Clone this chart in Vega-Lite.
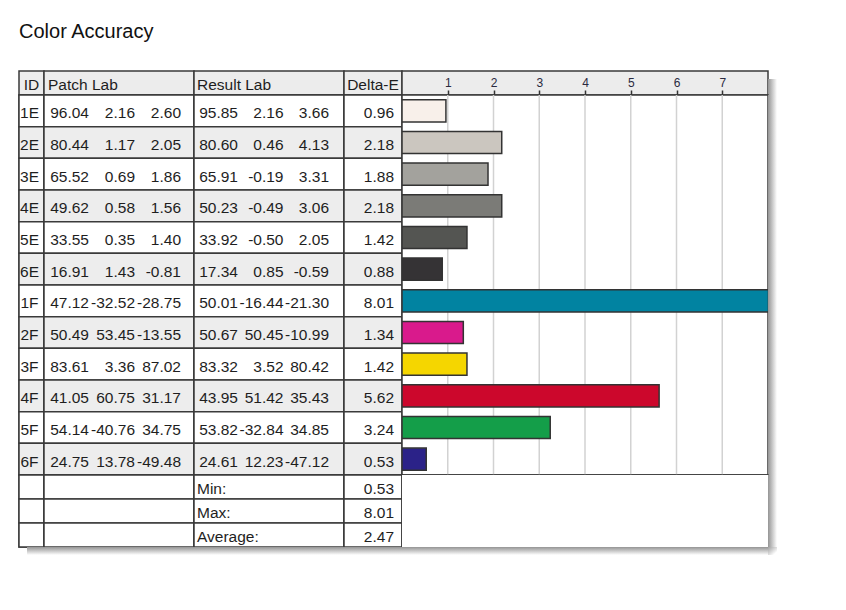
{
  "$schema": "https://vega.github.io/schema/vega-lite/v6.json",
  "padding": {"left": 17, "top": 22, "right": 0, "bottom": 0},
  "background": "white",
  "title": {"text": "Color Accuracy", "anchor": "start", "frame": "group", "fontSize": 20, "font": "Liberation Sans", "fontWeight": "normal", "color": "#111111", "offset": 28},
  "datasets": {
    "rows": [
      {"id": "1E", "pL": 96.04, "pa": 2.16, "pb": 2.60, "rL": 95.85, "ra": 2.16, "rb": 3.66, "de": 0.96},
      {"id": "2E", "pL": 80.44, "pa": 1.17, "pb": 2.05, "rL": 80.60, "ra": 0.46, "rb": 4.13, "de": 2.18},
      {"id": "3E", "pL": 65.52, "pa": 0.69, "pb": 1.86, "rL": 65.91, "ra": -0.19, "rb": 3.31, "de": 1.88},
      {"id": "4E", "pL": 49.62, "pa": 0.58, "pb": 1.56, "rL": 50.23, "ra": -0.49, "rb": 3.06, "de": 2.18},
      {"id": "5E", "pL": 33.55, "pa": 0.35, "pb": 1.40, "rL": 33.92, "ra": -0.50, "rb": 2.05, "de": 1.42},
      {"id": "6E", "pL": 16.91, "pa": 1.43, "pb": -0.81, "rL": 17.34, "ra": 0.85, "rb": -0.59, "de": 0.88},
      {"id": "1F", "pL": 47.12, "pa": -32.52, "pb": -28.75, "rL": 50.01, "ra": -16.44, "rb": -21.30, "de": 8.01},
      {"id": "2F", "pL": 50.49, "pa": 53.45, "pb": -13.55, "rL": 50.67, "ra": 50.45, "rb": -10.99, "de": 1.34},
      {"id": "3F", "pL": 83.61, "pa": 3.36, "pb": 87.02, "rL": 83.32, "ra": 3.52, "rb": 80.42, "de": 1.42},
      {"id": "4F", "pL": 41.05, "pa": 60.75, "pb": 31.17, "rL": 43.95, "ra": 51.42, "rb": 35.43, "de": 5.62},
      {"id": "5F", "pL": 54.14, "pa": -40.76, "pb": 34.75, "rL": 53.82, "ra": -32.84, "rb": 34.85, "de": 3.24},
      {"id": "6F", "pL": 24.75, "pa": 13.78, "pb": -49.48, "rL": 24.61, "ra": 12.23, "rb": -47.12, "de": 0.53}
    ],
    "summary": [
      {"s": "Min:", "v": 0.53},
      {"s": "Max:", "v": 8.01},
      {"s": "Average:", "v": 2.47}
    ],
    "gridticks": [{"g": 1}, {"g": 2}, {"g": 3}, {"g": 4}, {"g": 5}, {"g": 6}, {"g": 7}],
    "blank": [{"b": "x"}]
  },
  "columns": 6,
  "bounds": "flush",
  "spacing": 0,
  "resolve": {"scale": {"x": "independent", "y": "independent", "fill": "independent", "color": "independent"}},
  "concat": [
    {"width": 25, "height": 24, "view": {"fill": "#ececec", "stroke": "#3a3a3a", "strokeWidth": 1.5}, "data": {"values": [{"t": "ID"}]}, "mark": {"type": "text", "align": "center", "baseline": "middle", "dy": 2}, "encoding": {"text": {"field": "t"}}},
    {"width": 150, "height": 24, "view": {"fill": "#ececec", "stroke": "#3a3a3a", "strokeWidth": 1.5}, "data": {"values": [{"t": "Patch Lab"}]}, "mark": {"type": "text", "align": "left", "baseline": "middle", "dx": -71, "dy": 2}, "encoding": {"text": {"field": "t"}}},
    {"width": 150, "height": 24, "view": {"fill": "#ececec", "stroke": "#3a3a3a", "strokeWidth": 1.5}, "data": {"values": [{"t": "Result Lab"}]}, "mark": {"type": "text", "align": "left", "baseline": "middle", "dx": -72, "dy": 2}, "encoding": {"text": {"field": "t"}}},
    {"width": 58, "height": 24, "view": {"fill": "#ececec", "stroke": "#3a3a3a", "strokeWidth": 1.5}, "data": {"values": [{"t": "Delta-E"}]}, "mark": {"type": "text", "align": "center", "baseline": "middle", "dy": 2}, "encoding": {"text": {"field": "t"}}},
    {
      "width": 366, "height": 24, "view": {"fill": "#ececec", "stroke": "#3a3a3a", "strokeWidth": 1.5}, "data": {"name": "rows"},
      "mark": {"type": "point", "opacity": 0, "clip": true},
      "encoding": {
        "x": {"field": "de", "type": "quantitative", "scale": {"domain": [0, 8], "nice": false}, "axis": {"orient": "top", "offset": -24, "values": [1, 2, 3, 4, 5, 6, 7], "format": "d", "title": null, "domain": false, "grid": false, "ticks": true, "tickSize": 5, "tickColor": "#333333", "tickWidth": 1.5, "labelFontSize": 12, "labelFont": "Liberation Sans", "labelColor": "#2a2a40", "labelPadding": 1}}
      }
    },
    {
      "width": 9, "height": 24, "view": {"stroke": null}, "data": {"name": "blank"},
      "mark": {"type": "rect", "fill": {"gradient": "linear", "x1": 0, "y1": 0, "x2": 1, "y2": 0, "stops": [{"offset": 0, "color": "#949494"}, {"offset": 1, "color": "#ffffff"}]}},
      "encoding": {"y": {"field": "b", "type": "nominal", "axis": null, "scale": {"paddingInner": 0, "paddingOuter": 0.25, "align": 1}}}
    },

    {
      "width": 25, "height": 380, "data": {"name": "rows"},
      "encoding": {"y": {"field": "id", "type": "nominal", "sort": null, "axis": null, "scale": {"paddingInner": 0, "paddingOuter": 0}}},
      "layer": [
        {"mark": {"type": "rect", "stroke": "#3a3a3a", "strokeWidth": 1.5}, "encoding": {"fill": {"field": "id", "type": "nominal", "legend": null, "scale": {"domain": ["1E","2E","3E","4E","5E","6E","1F","2F","3F","4F","5F","6F"], "range": ["#ffffff","#ededed","#ffffff","#ededed","#ffffff","#ededed","#ffffff","#ededed","#ffffff","#ededed","#ffffff","#ededed"]}}}},
        {"mark": {"type": "text", "align": "center", "baseline": "middle", "dx": -2, "dy": 2.5}, "encoding": {"text": {"field": "id"}}}
      ]
    },
    {
      "width": 150, "height": 380, "data": {"name": "rows"},
      "encoding": {"y": {"field": "id", "type": "nominal", "sort": null, "axis": null, "scale": {"paddingInner": 0, "paddingOuter": 0}}},
      "layer": [
        {"mark": {"type": "rect", "stroke": "#3a3a3a", "strokeWidth": 1.5}, "encoding": {"fill": {"field": "id", "type": "nominal", "legend": null, "scale": {"domain": ["1E","2E","3E","4E","5E","6E","1F","2F","3F","4F","5F","6F"], "range": ["#ffffff","#ededed","#ffffff","#ededed","#ffffff","#ededed","#ffffff","#ededed","#ffffff","#ededed","#ffffff","#ededed"]}}}},
        {"transform": [{"fold": ["pL", "pa", "pb"], "as": ["k", "v"]}],
         "mark": {"type": "text", "align": "right", "baseline": "middle", "dy": 2.5},
         "encoding": {"x": {"field": "k", "type": "nominal", "axis": null, "scale": {"type": "point", "domain": ["pL", "pa", "pb"], "range": [45, 137], "padding": 0}}, "text": {"field": "v", "type": "quantitative", "format": ".2f"}}}
      ]
    },
    {
      "width": 150, "height": 380, "data": {"name": "rows"},
      "encoding": {"y": {"field": "id", "type": "nominal", "sort": null, "axis": null, "scale": {"paddingInner": 0, "paddingOuter": 0}}},
      "layer": [
        {"mark": {"type": "rect", "stroke": "#3a3a3a", "strokeWidth": 1.5}, "encoding": {"fill": {"field": "id", "type": "nominal", "legend": null, "scale": {"domain": ["1E","2E","3E","4E","5E","6E","1F","2F","3F","4F","5F","6F"], "range": ["#ffffff","#ededed","#ffffff","#ededed","#ffffff","#ededed","#ffffff","#ededed","#ffffff","#ededed","#ffffff","#ededed"]}}}},
        {"transform": [{"fold": ["rL", "ra", "rb"], "as": ["k", "v"]}],
         "mark": {"type": "text", "align": "right", "baseline": "middle", "dy": 2.5},
         "encoding": {"x": {"field": "k", "type": "nominal", "axis": null, "scale": {"type": "point", "domain": ["rL", "ra", "rb"], "range": [44, 135], "padding": 0}}, "text": {"field": "v", "type": "quantitative", "format": ".2f"}}}
      ]
    },
    {
      "width": 58, "height": 380, "data": {"name": "rows"},
      "encoding": {"y": {"field": "id", "type": "nominal", "sort": null, "axis": null, "scale": {"paddingInner": 0, "paddingOuter": 0}}},
      "layer": [
        {"mark": {"type": "rect", "stroke": "#3a3a3a", "strokeWidth": 1.5}, "encoding": {"fill": {"field": "id", "type": "nominal", "legend": null, "scale": {"domain": ["1E","2E","3E","4E","5E","6E","1F","2F","3F","4F","5F","6F"], "range": ["#ffffff","#ededed","#ffffff","#ededed","#ffffff","#ededed","#ffffff","#ededed","#ffffff","#ededed","#ffffff","#ededed"]}}}},
        {"mark": {"type": "text", "align": "right", "baseline": "middle", "dx": 21, "dy": 2.5}, "encoding": {"text": {"field": "de", "type": "quantitative", "format": ".2f"}}}
      ]
    },
    {
      "width": 366, "height": 380,
      "view": {"fill": "#ffffff", "stroke": "#3a3a3a", "strokeWidth": 1.5},
      "layer": [
        {
          "data": {"name": "gridticks"},
          "mark": {"type": "rule", "color": "#d2d2d2", "strokeWidth": 1.5},
          "encoding": {"x": {"field": "g", "type": "quantitative", "scale": {"domain": [0, 8], "nice": false}, "axis": null}}
        },
        {
          "data": {"name": "rows"},
          "mark": {"type": "bar", "stroke": "#333333", "strokeWidth": 1.5, "clip": true},
          "encoding": {
            "y": {"field": "id", "type": "nominal", "sort": null, "axis": null, "scale": {"paddingInner": 0.3, "paddingOuter": 0.15}},
            "x": {"field": "de", "type": "quantitative", "scale": {"domain": [0, 8], "nice": false}, "axis": null},
            "color": {"field": "id", "type": "nominal", "legend": null, "scale": {"domain": ["1E","2E","3E","4E","5E","6E","1F","2F","3F","4F","5F","6F"], "range": ["#f8f0ea","#cbc6bf","#a3a29d","#7b7b77","#545552","#353335","#0183a1","#d91a8c","#f5d600","#cc072c","#149e49","#2b2288"]}}
          }
        }
      ]
    },
    {
      "width": 9, "height": 380, "view": {"stroke": null}, "data": {"name": "blank"},
      "mark": {"type": "rect", "fill": {"gradient": "linear", "x1": 0, "y1": 0, "x2": 1, "y2": 0, "stops": [{"offset": 0, "color": "#949494"}, {"offset": 1, "color": "#ffffff"}]}},
      "encoding": {"y": {"field": "b", "type": "nominal", "axis": null, "scale": {"paddingInner": 0, "paddingOuter": 0}}}
    },

    {"width": 25, "height": 72, "data": {"name": "summary"}, "mark": {"type": "rect", "fill": "#ffffff", "stroke": "#3a3a3a", "strokeWidth": 1.5}, "encoding": {"y": {"field": "s", "type": "nominal", "sort": null, "axis": null, "scale": {"paddingInner": 0, "paddingOuter": 0}}}},
    {"width": 150, "height": 72, "data": {"name": "summary"}, "mark": {"type": "rect", "fill": "#ffffff", "stroke": "#3a3a3a", "strokeWidth": 1.5}, "encoding": {"y": {"field": "s", "type": "nominal", "sort": null, "axis": null, "scale": {"paddingInner": 0, "paddingOuter": 0}}}},
    {
      "width": 150, "height": 72, "data": {"name": "summary"},
      "encoding": {"y": {"field": "s", "type": "nominal", "sort": null, "axis": null, "scale": {"paddingInner": 0, "paddingOuter": 0}}},
      "layer": [
        {"mark": {"type": "rect", "fill": "#ffffff", "stroke": "#3a3a3a", "strokeWidth": 1.5}},
        {"mark": {"type": "text", "align": "left", "baseline": "middle", "dx": -72, "dy": 2}, "encoding": {"text": {"field": "s"}}}
      ]
    },
    {
      "width": 58, "height": 72, "data": {"name": "summary"},
      "encoding": {"y": {"field": "s", "type": "nominal", "sort": null, "axis": null, "scale": {"paddingInner": 0, "paddingOuter": 0}}},
      "layer": [
        {"mark": {"type": "rect", "fill": "#ffffff", "stroke": "#3a3a3a", "strokeWidth": 1.5}},
        {"mark": {"type": "text", "align": "right", "baseline": "middle", "dx": 21, "dy": 2}, "encoding": {"text": {"field": "v", "type": "quantitative", "format": ".2f"}}}
      ]
    },
    {"width": 366, "height": 72, "data": {"name": "summary"}, "view": {"fill": "#ffffff", "stroke": "#3a3a3a", "strokeWidth": 1.5}, "mark": {"type": "rect", "fill": "#ffffff", "strokeWidth": 0}, "encoding": {"y": {"field": "s", "type": "nominal", "sort": null, "axis": null, "scale": {"paddingInner": 0, "paddingOuter": 0}}}},
    {
      "width": 9, "height": 72, "view": {"stroke": null}, "data": {"name": "blank"},
      "mark": {"type": "rect", "fill": {"gradient": "linear", "x1": 0, "y1": 0, "x2": 1, "y2": 0, "stops": [{"offset": 0, "color": "#949494"}, {"offset": 1, "color": "#ffffff"}]}},
      "encoding": {"y": {"field": "b", "type": "nominal", "axis": null, "scale": {"paddingInner": 0, "paddingOuter": 0}}}
    },

    {
      "width": 25, "height": 8, "view": {"stroke": null}, "data": {"name": "blank"},
      "mark": {"type": "rect", "fill": {"gradient": "linear", "x1": 0, "y1": 0, "x2": 0, "y2": 1, "stops": [{"offset": 0, "color": "#949494"}, {"offset": 1, "color": "#ffffff"}]}},
      "encoding": {"x": {"field": "b", "type": "nominal", "axis": null, "scale": {"paddingInner": 0, "paddingOuter": 0.235, "align": 1}}}
    },
    {
      "width": 150, "height": 8, "view": {"stroke": null}, "data": {"name": "blank"},
      "mark": {"type": "rect", "fill": {"gradient": "linear", "x1": 0, "y1": 0, "x2": 0, "y2": 1, "stops": [{"offset": 0, "color": "#949494"}, {"offset": 1, "color": "#ffffff"}]}},
      "encoding": {"y": {"field": "b", "type": "nominal", "axis": null, "scale": {"paddingInner": 0, "paddingOuter": 0}}}
    },
    {
      "width": 150, "height": 8, "view": {"stroke": null}, "data": {"name": "blank"},
      "mark": {"type": "rect", "fill": {"gradient": "linear", "x1": 0, "y1": 0, "x2": 0, "y2": 1, "stops": [{"offset": 0, "color": "#949494"}, {"offset": 1, "color": "#ffffff"}]}},
      "encoding": {"y": {"field": "b", "type": "nominal", "axis": null, "scale": {"paddingInner": 0, "paddingOuter": 0}}}
    },
    {
      "width": 58, "height": 8, "view": {"stroke": null}, "data": {"name": "blank"},
      "mark": {"type": "rect", "fill": {"gradient": "linear", "x1": 0, "y1": 0, "x2": 0, "y2": 1, "stops": [{"offset": 0, "color": "#949494"}, {"offset": 1, "color": "#ffffff"}]}},
      "encoding": {"y": {"field": "b", "type": "nominal", "axis": null, "scale": {"paddingInner": 0, "paddingOuter": 0}}}
    },
    {
      "width": 366, "height": 8, "view": {"stroke": null}, "data": {"name": "blank"},
      "mark": {"type": "rect", "fill": {"gradient": "linear", "x1": 0, "y1": 0, "x2": 0, "y2": 1, "stops": [{"offset": 0, "color": "#949494"}, {"offset": 1, "color": "#ffffff"}]}},
      "encoding": {"y": {"field": "b", "type": "nominal", "axis": null, "scale": {"paddingInner": 0, "paddingOuter": 0}}}
    },
    {
      "width": 9, "height": 8, "view": {"stroke": null}, "data": {"name": "blank"},
      "mark": {"type": "rect", "fill": {"gradient": "linear", "x1": 0, "y1": 0, "x2": 1, "y2": 1, "stops": [{"offset": 0, "color": "#a0a0a0"}, {"offset": 0.8, "color": "#ffffff"}]}},
      "encoding": {"y": {"field": "b", "type": "nominal", "axis": null, "scale": {"paddingInner": 0, "paddingOuter": 0}}}
    }
  ],
  "config": {
    "font": "Liberation Sans",
    "locale": {"number": {"decimal": ".", "thousands": ",", "grouping": [3], "currency": ["$", ""], "minus": "-"}},
    "view": {"stroke": "#3a3a3a", "strokeWidth": 1.5},
    "concat": {"spacing": 0},
    "text": {"font": "Liberation Sans", "fontSize": 15.5, "color": "#1e1e1e"}
  }
}
